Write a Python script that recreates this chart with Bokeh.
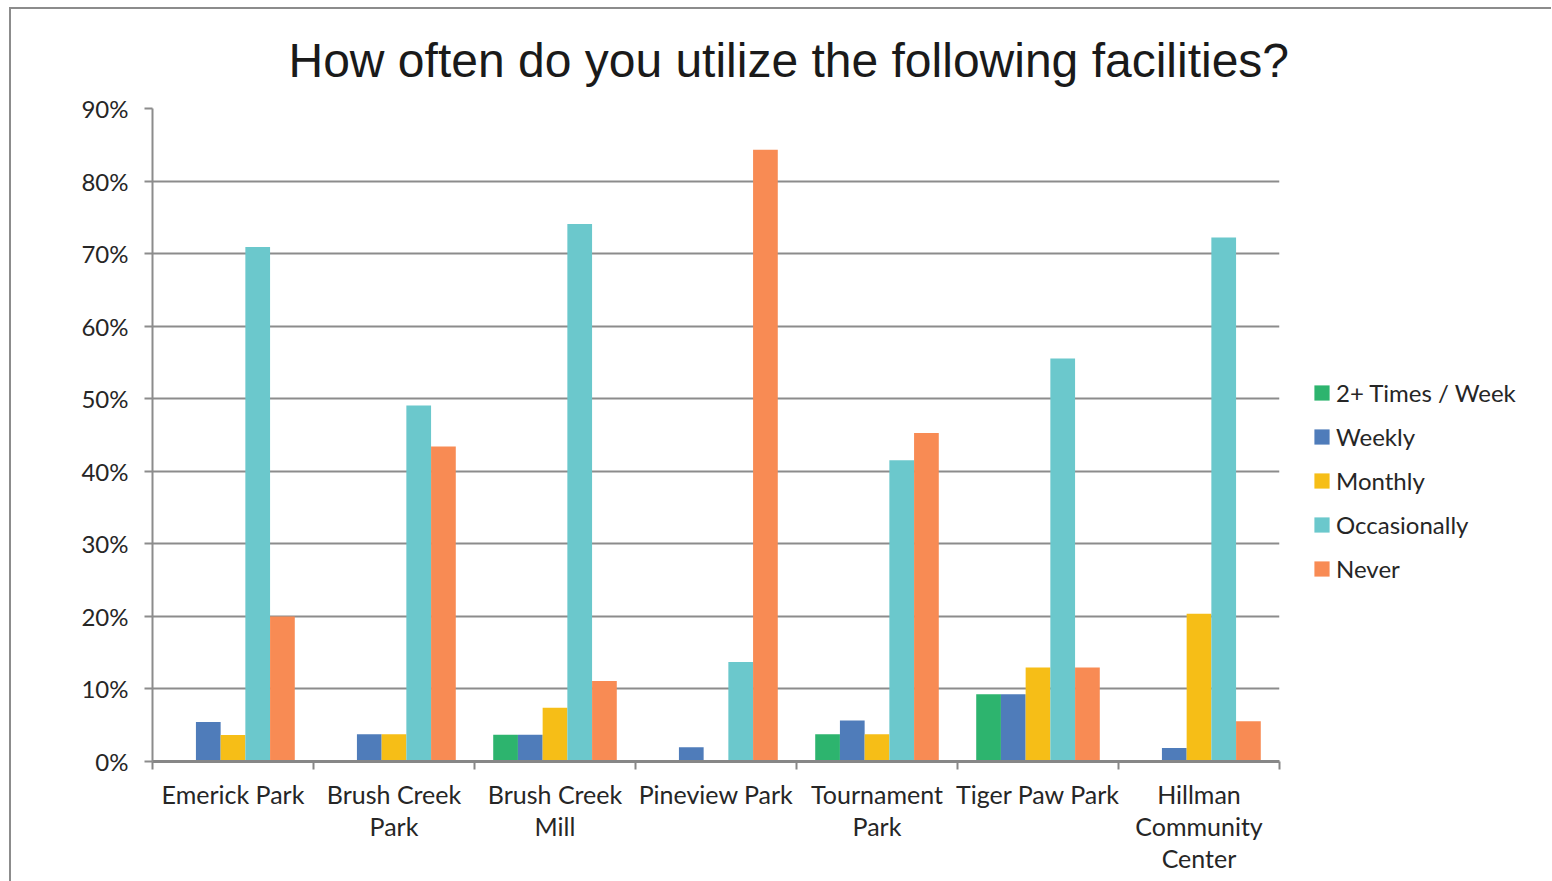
from bokeh.plotting import figure
from bokeh.layouts import row
from bokeh.models import (ColumnDataSource, Range1d, FixedTicker, PrintfTickFormatter,
                          Legend, LegendItem, Title)
from bokeh.transform import dodge
from bokeh.embed import file_html
from bokeh.resources import INLINE

categories = ["Emerick Park", "Brush Creek\nPark", "Brush Creek\nMill", "Pineview Park",
              "Tournament\nPark", "Tiger Paw Park", "Hillman\nCommunity\nCenter"]
series_names = ["2+ Times / Week", "Weekly", "Monthly", "Occasionally", "Never"]
twoplus = [0, 0, 3.70, 0, 3.77, 9.26, 0]
weekly = [5.45, 3.77, 3.70, 1.96, 5.66, 9.26, 1.85]
monthly = [3.64, 3.77, 7.41, 0, 3.77, 12.96, 20.37]
occasionally = [70.91, 49.06, 74.07, 13.73, 41.51, 55.56, 72.22]
never = [20.00, 43.40, 11.11, 84.31, 45.28, 12.96, 5.56]
y_ticks = [0, 10, 20, 30, 40, 50, 60, 70, 80, 90]

colors = ["#2db46e", "#4f7cba", "#f6be17", "#6bc8cc", "#f88b54"]
series = [twoplus, weekly, monthly, occasionally, never]
keys = ["twoplus", "weekly", "monthly", "occasionally", "never"]

centers = [i + 0.5 for i in range(len(categories))]
data = dict(x=centers)
for k, s in zip(keys, series):
    data[k] = s
src = ColumnDataSource(data)

FONT = "Lato"
TXT = "#262626"
GRID = "#8c8c8c"

p = figure(frame_width=1127, frame_height=653, output_backend="svg", toolbar_location=None,
           x_range=Range1d(0, len(categories)), y_range=Range1d(0, 90),
           min_border_left=141, min_border_right=10, min_border_top=98,
           min_border_bottom=116)
p.outline_line_color = None
p.background_fill_color = "white"

bw = 0.1535
for j, k in enumerate(keys):
    p.vbar(x=dodge("x", (j - 2) * bw, range=p.x_range), top=k, width=bw,
           bottom=0, source=src, fill_color=colors[j], line_color=None)

# grid
p.xgrid.grid_line_color = None
p.ygrid.grid_line_color = GRID
p.ygrid.grid_line_width = 2
p.ygrid.ticker = FixedTicker(ticks=y_ticks)

# y axis
ya = p.yaxis[0]
ya.ticker = FixedTicker(ticks=y_ticks)
ya.formatter = PrintfTickFormatter(format="%d%%")
ya.axis_line_color = GRID
ya.axis_line_width = 2
ya.major_tick_line_color = GRID
ya.major_tick_line_width = 2
ya.major_tick_out = 8
ya.major_tick_in = 0
ya.minor_tick_line_color = None
ya.major_label_text_font = FONT
ya.major_label_text_font_size = "24px"
ya.major_label_text_color = TXT
ya.major_label_standoff = 16

# x axis
xa = p.xaxis[0]
xa.ticker = FixedTicker(ticks=centers, minor_ticks=list(range(len(categories) + 1)))
xa.major_label_overrides = {c: lab for c, lab in zip(centers, categories)}
xa.axis_line_color = "#878787"
xa.axis_line_width = 3
xa.major_tick_line_color = None
xa.major_tick_out = 0
xa.major_tick_in = 0
xa.minor_tick_line_color = "#878787"
xa.minor_tick_line_width = 2
xa.minor_tick_out = 8
xa.minor_tick_in = 0
xa.major_label_text_font = FONT
xa.major_label_text_font_size = "25px"
xa.major_label_text_color = TXT
xa.major_label_text_line_height = 1.08
xa.major_label_standoff = 9

# title
p.title = Title(text="How often do you utilize the following facilities?", align="left",
                offset=136, text_font="Liberation Sans", text_font_size="48px",
                text_font_style="normal", text_color="#1a1a1a", standoff=44)

# legend panel (separate figure to the right)
LH = 872
LW = 262
pl = figure(width=LW, height=LH, output_backend="svg", toolbar_location=None,
            x_range=Range1d(0, LW), y_range=Range1d(0, LH),
            x_axis_type=None, y_axis_type=None,
            min_border_left=0, min_border_right=0, min_border_top=0, min_border_bottom=0)
pl.outline_line_color = None
pl.xgrid.grid_line_color = None
pl.ygrid.grid_line_color = None
# zero-height placeholder bars only carry the legend swatch styles
swatch = ColumnDataSource(dict(x=[0], top=[0]))
items = []
for j, name in enumerate(series_names):
    r = pl.vbar(x="x", top="top", width=1, source=swatch, fill_color=colors[j], line_color=None)
    items.append(LegendItem(label=name, renderers=[r]))

legend = Legend(items=items, location=(23, 182), orientation="vertical",
                label_text_font=FONT, label_text_font_size="24px", label_text_color=TXT,
                glyph_width=19, glyph_height=19, label_standoff=5, label_height=28,
                spacing=15, padding=0, margin=0, border_line_color=None,
                background_fill_alpha=0)
pl.add_layout(legend)

layout = row(p, pl)
layout.styles = {"margin-left": "9px", "margin-top": "7px",
                 "border-top": "2px solid #8c8c8c", "border-left": "2px solid #8c8c8c"}

open("out.html", "w").write(file_html(layout, INLINE))
